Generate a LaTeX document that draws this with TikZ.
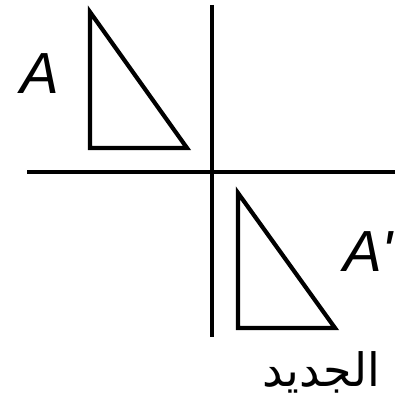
\documentclass[tikz,border=0pt]{standalone}
\usepackage{fontspec}
\setmainfont{Liberation Sans}
\newfontfamily\arabicfont[Script=Arabic]{DejaVu Sans}
\TeXXeTstate=1
\usetikzlibrary{positioning}

\begin{document}
\begin{tikzpicture}[
    x=1pt, y=-1pt,
    axis/.style={line width=4pt},
    tri/.style={line width=4.2pt, line join=miter},
    lbl/.style={font=\fontsize{58}{58}\selectfont\itshape, inner sep=0pt}
  ]
    \useasboundingbox (0,0) rectangle (395,398);

    % axes
    \draw[axis] (212,5) -- (212,337);
    \draw[axis] (27,172) -- (395,172);

    % original and image triangles
    \draw[tri] (90,12) -- (90,148) -- (187,148) -- cycle;
    \draw[tri] (238,193) -- (238,328) -- (335,328) -- cycle;

    \node[lbl] (a) at (40,74) {A};
    \node[lbl, anchor=west] (aimg) at (343,252) {A\textquotesingle};
    \node[font=\fontsize{46}{46}\selectfont\arabicfont, inner sep=0pt] (new) at (321,372) {\beginR الجديد\endR};
\end{tikzpicture}
\end{document}
